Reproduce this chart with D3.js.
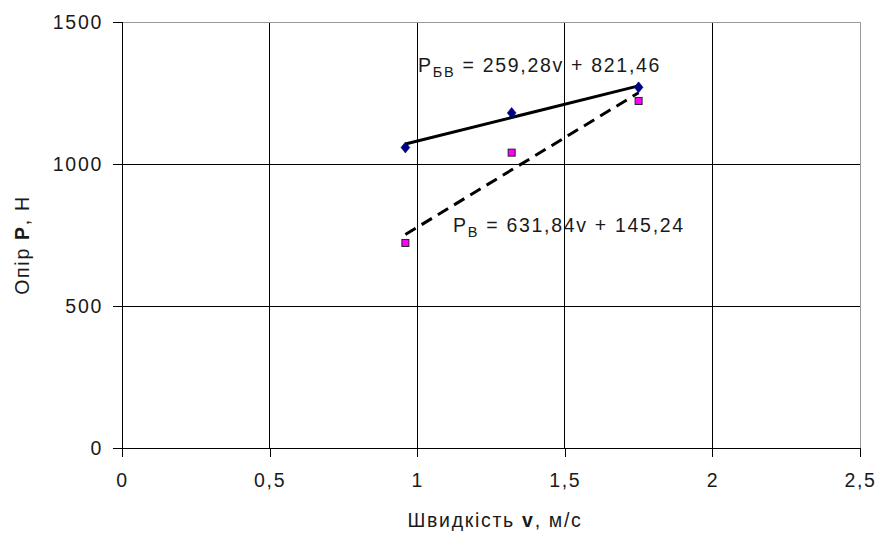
<!DOCTYPE html>
<html><head><meta charset="utf-8">
<script src="https://cdn.jsdelivr.net/npm/d3@7"></script>
<style>
body{margin:0;background:#fff}
svg text{font-family:"Liberation Sans",Arial,sans-serif;fill:#1a1a1a}
</style>
</head><body>
<svg id="c" width="879" height="534"></svg>
<script>
// ---- data ----
const speed = [0.96, 1.32, 1.75];
const resistBV = [1058, 1180, 1270];
const resistV = [722, 1040, 1222];
const xTicks = [0, 0.5, 1, 1.5, 2, 2.5];
const xTickLabels = ["0", "0,5", "1", "1,5", "2", "2,5"];
const yTicks = [0, 500, 1000, 1500];
const yTickLabels = ["0", "500", "1000", "1500"];
const trendBV = [259.28, 821.46];   // slope, intercept
const trendV = [631.84, 145.24];
const labelBV = ["P", "БВ", " = 259,28v + 821,46"];
const labelV = ["P", "В", " = 631,84v + 145,24"];

// ---- layout ----
const L = 122, R = 860, T = 22, B = 448;
const FS = 19.5, LS = 1.7;
const FONT = "'Liberation Sans',Arial,sans-serif";
const svg = d3.select("#c");
const x = d3.scaleLinear().domain([0, 2.5]).range([L, R]);
const y = d3.scaleLinear().domain([0, 1500]).range([B, T]);

// gridlines
const grid = svg.append("g");
grid.selectAll("line.v").data(xTicks.slice(1, -1)).join("line")
  .attr("x1", d => x(d)).attr("x2", d => x(d)).attr("y1", T).attr("y2", B)
  .attr("stroke", "#000").attr("stroke-width", 1).attr("shape-rendering", "crispEdges");
grid.selectAll("line.h").data(yTicks.slice(1, -1)).join("line")
  .attr("y1", d => y(d)).attr("y2", d => y(d)).attr("x1", L).attr("x2", R)
  .attr("stroke", "#000").attr("stroke-width", 1).attr("shape-rendering", "crispEdges");
// top / right border grey
svg.append("line").attr("x1", L).attr("x2", R).attr("y1", T).attr("y2", T)
  .attr("stroke", "#9a9a9a").attr("shape-rendering", "crispEdges");
svg.append("line").attr("x1", R).attr("x2", R).attr("y1", T).attr("y2", B)
  .attr("stroke", "#9a9a9a").attr("shape-rendering", "crispEdges");

// axes
const xAxis = svg.append("g").attr("transform", `translate(0,${B})`)
  .call(d3.axisBottom(x).tickValues(xTicks).tickFormat((d, i) => xTickLabels[i]).tickSize(9).tickPadding(16));
const yAxis = svg.append("g").attr("transform", `translate(${L},0)`)
  .call(d3.axisLeft(y).tickValues(yTicks).tickFormat((d, i) => yTickLabels[i]).tickSize(9).tickPadding(10));
[xAxis, yAxis].forEach(a => {
  a.select(".domain").attr("stroke", "#000").attr("shape-rendering", "crispEdges");
  a.selectAll(".tick line").attr("stroke", "#000").attr("shape-rendering", "crispEdges");
  a.selectAll("text").attr("font-size", FS).attr("letter-spacing", LS)
    .attr("font-family", FONT).attr("fill", "#1a1a1a");
});

// trend lines
const xMin = d3.min(speed), xMax = d3.max(speed);
function trend(c) { return [[xMin, c[0] * xMin + c[1]], [xMax, c[0] * xMax + c[1]]]; }
const line = d3.line().x(d => x(d[0])).y(d => y(d[1]));
svg.append("path").attr("d", line(trend(trendBV))).attr("fill", "none")
  .attr("stroke", "#000").attr("stroke-width", 3);
svg.append("path").attr("d", line(trend(trendV))).attr("fill", "none")
  .attr("stroke", "#000").attr("stroke-width", 3).attr("stroke-dasharray", "12,7");

// markers
svg.selectAll("path.bv").data(speed.map((s, i) => [s, resistBV[i]])).join("path")
  .attr("d", d3.symbol(d3.symbolDiamond, 48))
  .attr("transform", d => `translate(${x(d[0])},${y(d[1])}) scale(1.2,0.85)`)
  .attr("fill", "#000080").attr("stroke", "#000080").attr("stroke-width", 0.5);
svg.selectAll("rect.v").data(speed.map((s, i) => [s, resistV[i]])).join("rect")
  .attr("x", d => x(d[0]) - 3.5).attr("y", d => y(d[1]) - 3.5).attr("width", 7).attr("height", 7)
  .attr("fill", "#ff00ff").attr("stroke", "#222").attr("stroke-width", 1);

// equation labels
function eq(parts, px, py) {
  const t = svg.append("text").attr("x", px).attr("y", py).attr("font-size", FS).attr("letter-spacing", LS);
  t.append("tspan").text(parts[0]);
  t.append("tspan").attr("font-size", 14.5).attr("dy", 5).text(parts[1]);
  t.append("tspan").attr("dy", -5).text(parts[2]);
}
eq(labelBV, 418, 72);
eq(labelV, 453, 232);

// axis titles
const xt = svg.append("text").attr("x", (L + R) / 2 + 4).attr("y", 527)
  .attr("text-anchor", "middle").attr("font-size", FS).attr("letter-spacing", LS);
xt.append("tspan").text("Швидкість ");
xt.append("tspan").attr("font-weight", "bold").text("v");
xt.append("tspan").text(", м/с");

const yt = svg.append("text").attr("transform", `translate(29,245) rotate(-90)`)
  .attr("text-anchor", "middle").attr("font-size", FS).attr("letter-spacing", LS);
yt.append("tspan").text("Опір ");
yt.append("tspan").attr("font-weight", "bold").text("P");
yt.append("tspan").text(", Н");
</script>
</body></html>
